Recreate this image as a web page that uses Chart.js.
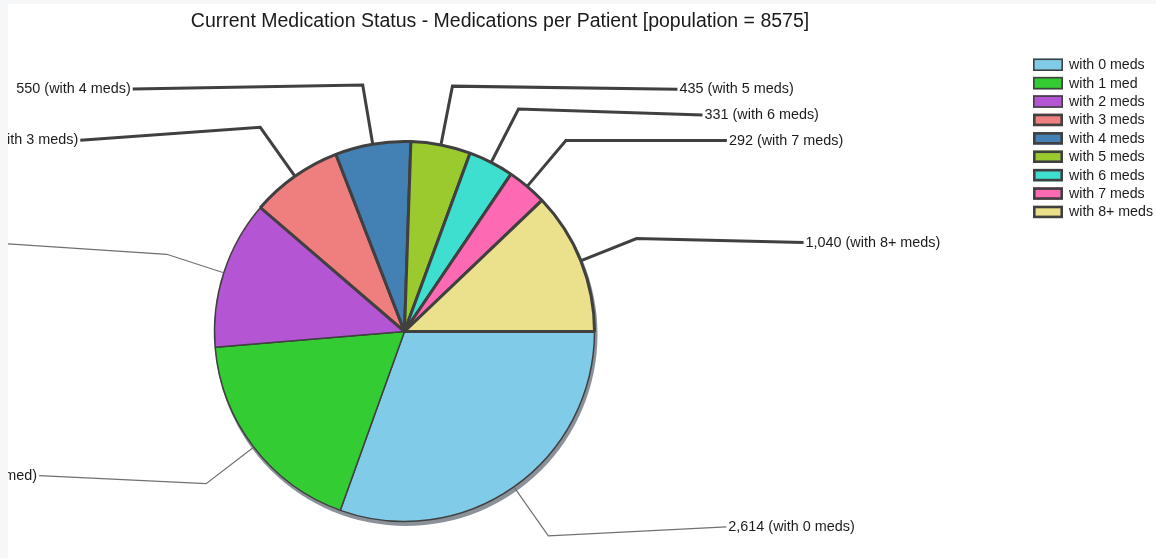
<!DOCTYPE html>
<html>
<head>
<meta charset="utf-8">
<title>Current Medication Status</title>
<script src="https://cdn.jsdelivr.net/npm/chart.js@4/dist/chart.umd.min.js"></script>
<style>
    html, body { margin: 0; padding: 0; background: #f5f7f9; }
    #panel { position: absolute; left: 8px; top: 4px; width: 1148px; height: 554px; background: #fff; }
    #chart_meds { display: block; }
</style>
</head>
<body>
<div id="panel"><canvas id="chart_meds" width="1148" height="554"></canvas></div>
<script>
// patients grouped by number of current medications
const population = 8575;
const categories = ['with 0 meds', 'with 1 med', 'with 2 meds', 'with 3 meds', 'with 4 meds',
                    'with 5 meds', 'with 6 meds', 'with 7 meds', 'with 8+ meds'];
const patients = [2614, 1561, 1082, 670, 550, 435, 331, 292, 1040];

const sliceColors = ['#80cce8', '#33cc33', '#b455d3', '#ef7f7f', '#4380b3',
                     '#9aca2e', '#3edfcf', '#fe69b3', '#ebe08b'];
const sliceBorders = [1.5, 1.5, 1.5, 3, 3, 3, 3, 3, 3];

// leader line: horizontal run and vertical drift after the elbow
const labelRuns = [[178, -9], [167, -8], [200, -13], [180, 13], [230, 4],
                   [225, 3], [184, 6], [161, 0], [167, 4]];

const FONT = '"Liberation Sans", Arial, sans-serif';
const EDGE = '#404040';
const TEXT = '#1c1c1c';

// drop shadow under the pie
const pieShadow = {
    id: 'pieShadow',
    beforeDatasetsDraw(chart) {
        const arc = chart.getDatasetMeta(0).data[0];
        if (!arc) return;
        const ctx = chart.ctx;
        ctx.save();
        ctx.beginPath();
        ctx.arc(arc.x + 1.5, arc.y + 3, arc.outerRadius + 1.5, 0, Math.PI * 2);
        ctx.fillStyle = 'rgba(60,72,84,0.6)';
        ctx.fill();
        ctx.restore();
    }
};

// outside labels with elbow leader lines
const leaderLabels = {
    id: 'leaderLabels',
    afterDatasetsDraw(chart) {
        const ctx = chart.ctx;
        const arcs = chart.getDatasetMeta(0).data;
        ctx.save();
        ctx.font = '14.4px ' + FONT;
        ctx.textBaseline = 'middle';
        arcs.forEach((arc, i) => {
            const {x, y, startAngle, endAngle, outerRadius} =
                arc.getProps(['x', 'y', 'startAngle', 'endAngle', 'outerRadius'], true);
            const mid = (startAngle + endAngle) / 2;
            const cos = Math.cos(mid), sin = Math.sin(mid);
            const ax = x + (outerRadius + 1) * cos, ay = y + (outerRadius + 1) * sin;
            const ex = x + (outerRadius + 60) * cos, ey = y + (outerRadius + 60) * sin;
            const side = cos >= 0 ? 1 : -1;
            const [run, dy] = labelRuns[i];
            const lx = ex + side * run, ly = ey + dy;

            const thin = sliceBorders[i] < 2;
            ctx.beginPath();
            ctx.moveTo(ax, ay);
            ctx.lineTo(ex, ey);
            ctx.lineTo(lx, ly);
            ctx.lineWidth = thin ? 1.2 : 3;
            ctx.strokeStyle = thin ? '#707070' : EDGE;
            ctx.lineJoin = 'miter';
            ctx.stroke();

            const text = patients[i].toLocaleString('en-US') + ' (' + categories[i] + ')';
            ctx.fillStyle = TEXT;
            ctx.textAlign = side > 0 ? 'left' : 'right';
            ctx.fillText(text, lx + side * 2, ly);
        });
        ctx.restore();
    }
};

// legend column and title
const sideLegend = {
    id: 'sideLegend',
    afterDraw(chart) {
        const ctx = chart.ctx;
        ctx.save();
        const left = 1025, top = 54.5, step = 18.4, w = 30, h = 12.5;
        ctx.font = '14.2px ' + FONT;
        ctx.textBaseline = 'middle';
        ctx.textAlign = 'left';
        categories.forEach((name, i) => {
            const y = top + i * step;
            const lw = sliceBorders[i] < 2 ? 1.6 : 2.6;
            ctx.fillStyle = sliceColors[i];
            ctx.fillRect(left, y, w, h);
            ctx.lineWidth = lw;
            ctx.strokeStyle = EDGE;
            ctx.strokeRect(left + lw / 2, y + lw / 2, w - lw, h - lw);
            ctx.fillStyle = TEXT;
            ctx.fillText(name, left + 36, y + h / 2 + 0.5);
        });

        ctx.font = '19.5px ' + FONT;
        ctx.textAlign = 'center';
        ctx.textBaseline = 'alphabetic';
        ctx.fillStyle = '#1a1a1a';
        ctx.fillText('Current Medication Status - Medications per Patient [population = ' + population + ']', 492, 22.5);
        ctx.restore();
    }
};

window.onload = () => {
    const ctx = document.getElementById('chart_meds').getContext('2d');
    new Chart(ctx, {
        type: 'pie',
        data: {
            labels: categories,
            datasets: [{
                data: patients,
                backgroundColor: sliceColors,
                borderColor: EDGE,
                borderWidth: sliceBorders
            }]
        },
        options: {
            responsive: false,
            animation: false,
            rotation: 90,
            radius: 190,
            events: [],
            layout: { padding: { left: 200, right: 555, top: 120, bottom: 19 } },
            plugins: {
                legend: { display: false },
                title: { display: false },
                tooltip: { enabled: false }
            }
        },
        plugins: [pieShadow, leaderLabels, sideLegend]
    });
};
</script>
</body>
</html>
